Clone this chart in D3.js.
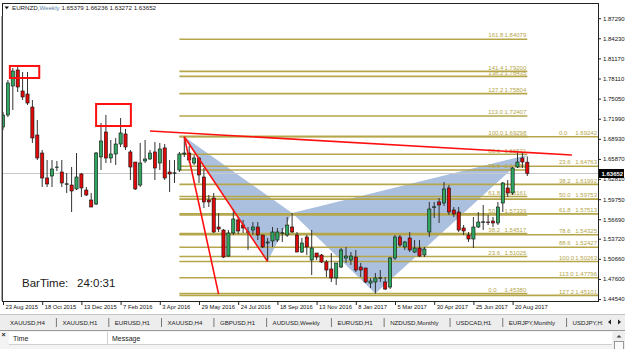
<!DOCTYPE html>
<html>
<head>
<meta charset="utf-8">
<script src="https://cdnjs.cloudflare.com/ajax/libs/d3/7.8.5/d3.min.js"></script>
<style>
  html, body { margin: 0; padding: 0; background: #fff; }
  svg { display: block; font-family: "Liberation Sans", Arial, sans-serif; }
</style>
</head>
<body>
<div id="chart"></div>
<script>
var symbol = "EURNZD", period = "Weekly";
var lastQuote = [1.65379, 1.66236, 1.63272, 1.63652];

// weekly bars, bar 0 = 23 Aug 2015
var opens = [1.7073,1.7256,1.7697,1.7941,1.7621,1.7575,1.7377,1.6951,1.6677,1.6297,
  1.6327,1.6457,1.6388,1.6206,1.6190,1.6130,1.6358,1.6114,1.5962,1.5901,
  1.6617,1.6997,1.6601,1.6662,1.6814,1.6967,1.6693,1.6540,1.6190,1.6556,
  1.6586,1.6693,1.6525,1.6754,1.6388,1.6373,1.6419,1.6662,1.6677,1.6525,
  1.6601,1.6312,1.5962,1.5992,1.5551,1.5505,1.5109,1.5460,1.5658,1.5581,
  1.5475,1.5505,1.5551,1.5429,1.5307,1.5338,1.5353,1.5460,1.5429,1.5551,
  1.5429,1.5170,1.5399,1.5049,1.5155,1.5125,1.5018,1.4912,1.4775,1.4942,
  1.5079,1.5049,1.5094,1.4942,1.4927,1.4698,1.4714,1.4775,1.4714,1.4637,
  1.5079,1.5399,1.5247,1.5384,1.5170,1.5231,1.5125,1.5475,1.5855,1.5932,
  1.5916,1.6145,1.5810,1.5779,1.5536,1.5429,1.5368,1.5551,1.5627,1.5627,
  1.5642,1.5612,1.5916,1.6145,1.6069,1.6464,1.6601,1.65379];
var highs = [1.7301,1.7788,1.7971,1.8017,1.7910,1.7910,1.7484,1.7180,1.6723,1.6571,
  1.6571,1.6556,1.6571,1.6373,1.6464,1.6677,1.6373,1.6160,1.6069,1.6693,
  1.7134,1.7256,1.6875,1.6906,1.7210,1.7043,1.6723,1.6540,1.6830,1.6875,
  1.6723,1.6845,1.6830,1.6814,1.6571,1.6571,1.6693,1.69242,1.6784,1.6647,
  1.6617,1.6449,1.6038,1.6069,1.5764,1.5520,1.5505,1.5825,1.5703,1.5658,
  1.5551,1.5627,1.5627,1.5429,1.5384,1.5551,1.5536,1.5536,1.5703,1.5764,
  1.5475,1.5384,1.5429,1.5505,1.5155,1.5140,1.5049,1.5155,1.5003,1.5231,
  1.5247,1.5170,1.5201,1.5003,1.4927,1.4775,1.4851,1.4896,1.4790,1.5094,
  1.5429,1.5429,1.5338,1.5475,1.5353,1.5353,1.5247,1.5932,1.5932,1.5992,
  1.6236,1.6190,1.5855,1.5855,1.5581,1.5475,1.5703,1.5779,1.5886,1.5734,
  1.5703,1.5932,1.6236,1.6266,1.6464,1.6677,1.6677,1.66236];
var lows = [1.7027,1.7225,1.7332,1.7606,1.7484,1.7408,1.6830,1.6571,1.6160,1.6160,
  1.6160,1.6403,1.6160,1.6069,1.5779,1.6114,1.6008,1.6023,1.5855,1.5886,
  1.6419,1.6525,1.6525,1.6495,1.6769,1.6723,1.6266,1.6114,1.6160,1.6525,
  1.6571,1.6266,1.6419,1.6266,1.6084,1.6221,1.6388,1.6617,1.6525,1.6495,
  1.6221,1.5840,1.5855,1.5460,1.5475,1.5079,1.5094,1.5429,1.5444,1.5460,
  1.5201,1.5429,1.5353,1.5231,1.50263,1.5247,1.5323,1.5323,1.5399,1.5460,
  1.5170,1.5155,1.5125,1.4820,1.5049,1.5003,1.4790,1.4714,1.4668,1.4927,
  1.5003,1.4973,1.4866,1.4790,1.4698,1.4622,1.4538,1.4714,1.4592,1.4607,
  1.5049,1.5247,1.5201,1.5170,1.5155,1.5094,1.5094,1.5399,1.5688,1.5612,
  1.5871,1.5734,1.5703,1.5475,1.5429,1.5323,1.5231,1.5536,1.5505,1.5581,
  1.5551,1.5581,1.5779,1.6008,1.6038,1.6449,1.6449,1.63272];
var closes = [1.7256,1.7743,1.7925,1.7682,1.7530,1.7438,1.6906,1.6601,1.6297,1.6206,
  1.6434,1.6464,1.6221,1.6209,1.6099,1.6312,1.6145,1.6038,1.5855,1.6677,
  1.6860,1.6601,1.6662,1.6814,1.6982,1.6769,1.6464,1.6130,1.6525,1.6586,
  1.6677,1.6449,1.6738,1.6297,1.6358,1.6376,1.6662,1.6677,1.6571,1.6601,
  1.6343,1.5932,1.5932,1.5475,1.5520,1.5094,1.5460,1.5673,1.5490,1.5536,
  1.5478,1.5551,1.5429,1.5247,1.5323,1.5475,1.5475,1.5463,1.5581,1.5475,
  1.5170,1.5307,1.5247,1.5231,1.5094,1.5018,1.4896,1.4775,1.5003,1.5201,
  1.5109,1.5109,1.4896,1.4896,1.4714,1.4729,1.4775,1.4778,1.4607,1.5079,
  1.5399,1.5277,1.5323,1.5201,1.5231,1.5109,1.5216,1.5825,1.5858,1.5886,
  1.6130,1.5779,1.5749,1.5505,1.5490,1.5368,1.5551,1.5627,1.5630,1.5624,
  1.5612,1.5855,1.6221,1.6069,1.6449,1.6540,1.6540,1.63652];

var dateLabels = ["23 Aug 2015","18 Oct 2015","13 Dec 2015","7 Feb 2016","3 Apr 2016","29 May 2016",
  "24 Jul 2016","18 Sep 2016","13 Nov 2016","8 Jan 2017","5 Mar 2017","30 Apr 2017","25 Jun 2017","20 Aug 2017"];
var priceTicks = [1.87290,1.84230,1.81170,1.78110,1.75050,1.71990,1.68930,1.65870,1.62810,
  1.59750,1.56690,1.53720,1.50660,1.47600,1.44540];

// fibonacci objects: [bar, price] anchors
var midFibLevels = [0, 23.6, 38.2, 50, 61.8, 78.6, 88.6, 100, 113, 127.2, 138.2, 141.4, 161.8];
var midFib = { fromBar: 36, toBar: 107, p0: 1.45380, p100: 1.69298 };
var rightFibLevels = [0, 23.6, 38.2, 50, 61.8, 78.6, 88.6, 100, 113, 127.2];
var rightFib = { fromBar: 36, toBar: null, p0: 1.69242, p100: 1.50263 };

var triangleXAB = [[37, 1.69242], [54, 1.50263], [59, 1.5764]];
var triangleBCD = [[59, 1.5764], [76, 1.45380], [107, 1.6647]];
var trendLines = [
  [[30, 1.7012], [116.1, 1.6647]],
  [[37, 1.69242], [44, 1.4530]],
  [[37, 1.69242], [54, 1.50263]]
];
var boxes = [[1.4, 7.4, 1.8002, 1.7819], [19, 26.1, 1.7423, 1.7088]];

var tabs = ["XAUUSD,H4","XAUUSD,H1","EURUSD,H1","XAUUSD,H4","GBPUSD,H1","AUDUSD,Weekly",
  "EURUSD,H1","NZDUSD,Monthly","USDCAD,H1","EURJPY,Monthly","USDJPY,H1"];
var barTime = "24:0:31";

var W = 625, H = 349,
    plot = { left: 3, top: 4, right: 598, bottom: 301 },
    bullColor = "#2fa560",
    bearColor = "#dd0a0a",
    fibColor = "#b5a64a";

var svg = d3.select('#chart').append('svg').attr('width', W).attr('height', H);

var x = d3.scaleLinear().domain([0, 104]).range([3, 512.6]);
var y = d3.scaleLinear().domain([1.44246, 1.89452]).range([plot.bottom, plot.top]);

svg.append('rect').attr('width', W).attr('height', H).attr('fill', '#fff');

var defs = svg.append('defs');
defs.append('clipPath').attr('id', 'plotClip').append('rect')
  .attr('x', plot.left).attr('y', plot.top)
  .attr('width', plot.right - plot.left).attr('height', plot.bottom - plot.top);
defs.append('clipPath').attr('id', 'tabClip').append('rect')
  .attr('x', 0).attr('y', 314).attr('width', 603).attr('height', 16);

var grp = svg.append('g').attr('clip-path', 'url(#plotClip)');

var line = d3.line()
  .x(function(d) { return x(d[0]); })
  .y(function(d) { return y(d[1]); });

// harmonic pattern triangles
grp.selectAll('path.tri').data([triangleXAB, triangleBCD]).enter().append('path')
  .attr('class', 'tri')
  .attr('d', function(d) { return line(d) + 'Z'; })
  .attr('fill', '#abc0de');

// bid line
var lastClose = closes[closes.length - 1];
grp.append('line')
  .attr('x1', plot.left).attr('x2', plot.right)
  .attr('y1', y(lastClose)).attr('y2', y(lastClose))
  .attr('stroke', '#c8c8c8').attr('stroke-width', 1);

// fib retracements
function drawFib(f, levels) {
  var x1 = x(f.fromBar),
      x2 = f.toBar === null ? plot.right : x(f.toBar);
  var g = grp.append('g');
  levels.forEach(function(lvl) {
    var p = f.p0 + (f.p100 - f.p0) * lvl / 100,
        py = y(p);
    g.append('line')
      .attr('x1', x1).attr('x2', x2).attr('y1', py).attr('y2', py)
      .attr('stroke', fibColor).attr('stroke-width', 1.6);
    g.append('text')
      .attr('x', x2 - 39).attr('y', py - 1.8)
      .attr('font-size', 6).attr('fill', fibColor)
      .text(lvl.toFixed(1));
    g.append('text')
      .attr('x', x2 - 1).attr('y', py - 1.8)
      .attr('font-size', 6).attr('fill', fibColor).attr('text-anchor', 'end')
      .text(p.toFixed(5));
  });
}
drawFib(midFib, midFibLevels);
drawFib(rightFib, rightFibLevels);

// candles
var bars = d3.range(opens.length),
    bodyW = 3.2;
var candle = grp.selectAll('g.candle').data(bars).enter().append('g').attr('class', 'candle');
candle.append('line')
  .attr('x1', function(i) { return x(i); })
  .attr('x2', function(i) { return x(i); })
  .attr('y1', function(i) { return y(highs[i]); })
  .attr('y2', function(i) { return y(lows[i]); })
  .attr('stroke', '#333').attr('stroke-width', 1);
candle.append('rect')
  .attr('x', function(i) { return x(i) - bodyW / 2; })
  .attr('y', function(i) { return y(Math.max(opens[i], closes[i])); })
  .attr('width', bodyW)
  .attr('height', function(i) { return Math.max(0.6, Math.abs(y(opens[i]) - y(closes[i]))); })
  .attr('fill', function(i) { return closes[i] >= opens[i] ? bullColor : bearColor; })
  .attr('stroke', '#111').attr('stroke-width', 0.6);

// trend lines and boxes
grp.selectAll('path.trend').data(trendLines).enter().append('path')
  .attr('class', 'trend')
  .attr('d', line)
  .attr('fill', 'none').attr('stroke', '#ff1010').attr('stroke-width', 1.6);

grp.selectAll('rect.box').data(boxes).enter().append('rect')
  .attr('class', 'box')
  .attr('x', function(d) { return x(d[0]); })
  .attr('y', function(d) { return y(d[2]); })
  .attr('width', function(d) { return x(d[1]) - x(d[0]); })
  .attr('height', function(d) { return y(d[3]) - y(d[2]); })
  .attr('fill', 'none').attr('stroke', '#ff1010').attr('stroke-width', 2);

// bar time text
var bt = svg.append('text').attr('x', 22).attr('y', 287)
  .attr('font-size', 11.5).attr('fill', '#1a1a1a');
bt.append('tspan').text('BarTime:');
bt.append('tspan').attr('x', 77).text(barTime);

// frame
svg.append('rect')
  .attr('x', plot.left - 0.5).attr('y', plot.top - 0.5)
  .attr('width', plot.right - plot.left + 1).attr('height', plot.bottom - plot.top + 1)
  .attr('fill', 'none').attr('stroke', '#222').attr('stroke-width', 1);
svg.append('line').attr('x1', 2).attr('x2', 2).attr('y1', 16).attr('y2', plot.bottom)
  .attr('stroke', '#555').attr('stroke-width', 1);

// title
svg.append('path').attr('d', 'M4.5,6.5 L9,6.5 L6.75,9.2 Z').attr('fill', '#111');
var title = svg.append('text').attr('x', 12).attr('y', 10).attr('font-size', 6.2).attr('fill', '#222');
title.append('tspan').text(symbol + ',');
title.append('tspan').attr('fill', '#5b7fa6').text(period);
title.append('tspan').text(' ' + lastQuote.map(function(v) { return v.toFixed(5); }).join(' '));

// price axis
var yAxis = d3.axisRight(y).tickValues(priceTicks).tickSize(3).tickPadding(2)
  .tickFormat(d3.format('.5f'));
var ya = svg.append('g').attr('transform', 'translate(' + plot.right + ',0)').call(yAxis);
ya.select('.domain').remove();
ya.selectAll('line').attr('stroke', '#222');
ya.selectAll('text').attr('font-size', 6).attr('fill', '#111')
  .attr('font-family', '"Liberation Sans", Arial, sans-serif');

// current price marker
var cy = y(lastClose);
svg.append('rect').attr('x', plot.right + 1).attr('y', cy - 4.5)
  .attr('width', 25).attr('height', 9).attr('fill', '#000');
svg.append('text').attr('x', plot.right + 3.5).attr('y', cy + 2.2)
  .attr('font-size', 6).attr('font-weight', 'bold').attr('fill', '#fff')
  .text(lastClose.toFixed(5));

// time axis
var xAxis = d3.axisBottom(x).tickValues(d3.range(0, 105, 8)).tickSize(4)
  .tickFormat(function(d) { return dateLabels[d / 8]; });
var xa = svg.append('g').attr('transform', 'translate(0,' + plot.bottom + ')').call(xAxis);
xa.select('.domain').remove();
xa.selectAll('line').attr('stroke', '#222');
xa.selectAll('text')
  .attr('x', 2).attr('y', 4).attr('dy', '0.71em').attr('text-anchor', 'start')
  .attr('font-size', 5.8).attr('fill', '#111')
  .attr('font-family', '"Liberation Sans", Arial, sans-serif');

// tab bar
svg.append('rect').attr('x', 0).attr('y', 314).attr('width', W).attr('height', 16).attr('fill', '#ededed');
svg.append('line').attr('x1', 0).attr('x2', W).attr('y1', 314.5).attr('y2', 314.5).attr('stroke', '#c4c4c4');
var tabG = svg.append('g').attr('clip-path', 'url(#tabClip)');
var tx = 10;
tabs.forEach(function(t, i) {
  var el = tabG.append('text').attr('x', tx).attr('y', 325).attr('font-size', 6.1)
    .attr('fill', '#222').text(t);
  var w = el.node().getComputedTextLength();
  if (i < tabs.length - 1)
    tabG.append('line').attr('x1', tx + w + 11.5).attr('x2', tx + w + 11.5)
      .attr('y1', 318).attr('y2', 327).attr('stroke', '#777');
  tx += w + 17.5;
});
svg.append('path').attr('d', 'M608,322 L611,319.5 L611,324.5 Z').attr('fill', '#222');
svg.append('path').attr('d', 'M621,322 L618,319.5 L618,324.5 Z').attr('fill', '#222');

// terminal panel
svg.append('rect').attr('x', 0).attr('y', 330).attr('width', W).attr('height', 19).attr('fill', '#f3f3f3');
svg.append('line').attr('x1', 0).attr('x2', W).attr('y1', 330.5).attr('y2', 330.5).attr('stroke', '#9a9a9a');
svg.append('rect').attr('x', 9).attr('y', 332).attr('width', 603).attr('height', 12).attr('fill', '#fff');
svg.append('line').attr('x1', 9).attr('x2', 612).attr('y1', 344.5).attr('y2', 344.5).attr('stroke', '#d0d0d0');
svg.append('line').attr('x1', 107.5).attr('x2', 107.5).attr('y1', 332).attr('y2', 344).attr('stroke', '#d0d0d0');
svg.append('text').attr('x', 1.5).attr('y', 337).attr('font-size', 7).attr('font-weight', 'bold').attr('fill', '#222').text('\u00d7');
svg.append('text').attr('x', 13).attr('y', 341).attr('font-size', 7).attr('fill', '#222').text('Time');
svg.append('text').attr('x', 112).attr('y', 341).attr('font-size', 7).attr('fill', '#222').text('Message');
svg.append('rect').attr('x', 613).attr('y', 332).attr('width', 12).attr('height', 17).attr('fill', '#eeeeee');
svg.append('path').attr('d', 'M616.5,337.5 L619,335 L621.5,337.5 Z').attr('fill', '#444');
svg.append('rect').attr('x', 614.5).attr('y', 341.5).attr('width', 9).attr('height', 8).attr('fill', '#fafafa').attr('stroke', '#999');
</script>
</body>
</html>
